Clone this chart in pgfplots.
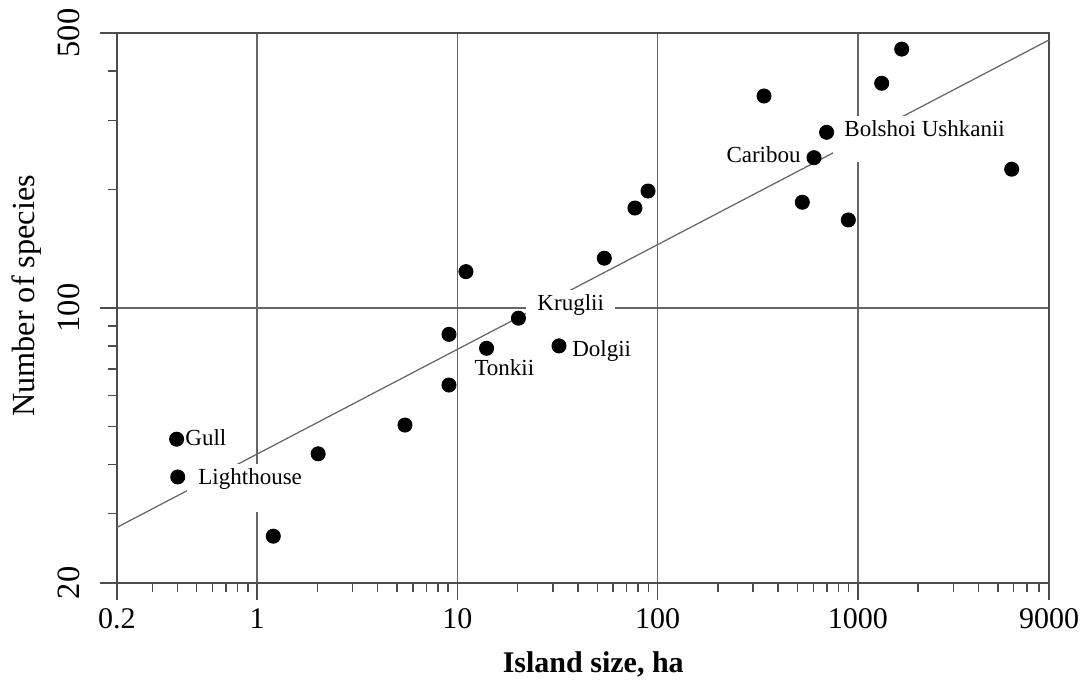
\documentclass[border=0pt]{standalone}
\usepackage{pgfplots}
\pgfplotsset{compat=1.18}
\usepackage{fontspec}
\setmainfont{Liberation Serif}
\tikzset{lbl/.style={fill=white, inner xsep=4.5pt, inner ysep=2pt, anchor=base west, xshift=-4.5pt, font=\fontsize{9.2}{11}\selectfont}}
\begin{document}
\begin{tikzpicture}
\path[use as bounding box] (-46.8pt,-40pt) rectangle (389.6pt,233.2pt);
\begin{axis}[
  at={(0,0)}, anchor=south west,
  scale only axis, width=372.8pt, height=220pt,
  xmode=log, ymode=log,
  xmin=0.2, xmax=9000, ymin=20, ymax=500,
  xtick={0.2,1,10,100,1000,9000},
  xticklabels={0.2,1,10,100,1000,9000},
  ytick={20,100,500},
  yticklabels={20,100,500},
  minor xtick={0.3,0.4,0.5,0.6,0.7,0.8,0.9,2,3,4,5,6,7,8,9,20,30,40,50,60,70,80,90,200,300,400,500,600,700,800,900,2000,3000,4000,5000,6000,7000,8000},
  minor ytick={30,40,50,60,70,80,90,200,300,400},
  xtick pos=bottom, ytick pos=left,
  tick align=outside,
  major tick length=6.8pt, minor tick length=3.6pt,
  xmajorgrids, ymajorgrids,
  grid style={line width=0.6pt, color=black!60},
  axis line style={line width=0.6pt, color=black!70},
  tick style={line width=0.6pt, color=black!70},
  tick label style={font=\fontsize{12}{14}\selectfont},
  yticklabel style={rotate=90, anchor=south, font=\fontsize{13}{15}\selectfont},
  yticklabel shift=4.6pt,
  xlabel={\textbf{Island size, ha}},
  xlabel style={at={(axis description cs:0.511,0)}, anchor=base, yshift=-36pt, font=\fontsize{12}{14}\selectfont},
  ylabel={Number of species},
  ylabel style={at={(axis description cs:-0.088,0.522)}, anchor=base, font=\fontsize{12.9}{15}\selectfont},
]
\addplot[color=black!60, line width=0.5pt, no marks] coordinates {(0.2,27.7) (9000,480)};
\node[lbl, inner xsep=1pt, xshift=3.5pt] at (axis cs:0.437,44.8) {Gull};
\node[lbl, text depth=8.8pt] at (axis cs:0.507,35.5) {Lighthouse};
\node[lbl] at (axis cs:12.12,67.5) {Tonkii};
\node[lbl] at (axis cs:25.0,98.3) {Kruglii};
\node[lbl] at (axis cs:37.3,75.2) {Dolgii};
\node[lbl, inner xsep=1.5pt, xshift=3pt] at (axis cs:219.6,234.6) {Caribou};
\node[lbl, text depth=8pt] at (axis cs:852,272.5) {Bolshoi Ushkanii};
\addplot[only marks, mark=*, mark size=2.8pt, black] coordinates {
(0.397,46.4) (0.402,37.2) (1.206,26.3) (2.02,42.6) (5.48,50.4)
(9.09,63.7) (9.09,85.7) (11.05,123.7) (14.0,79.0) (20.2,94.2)
(32.2,80.1) (54.2,133.8) (77.1,179.5) (89.6,198.3) (340,345.8)
(528,185.7) (604,241) (698,279.6) (896,167.4) (1315,372.6)
(1655,455) (5861,225.3)
};
\end{axis}
\end{tikzpicture}
\end{document}
